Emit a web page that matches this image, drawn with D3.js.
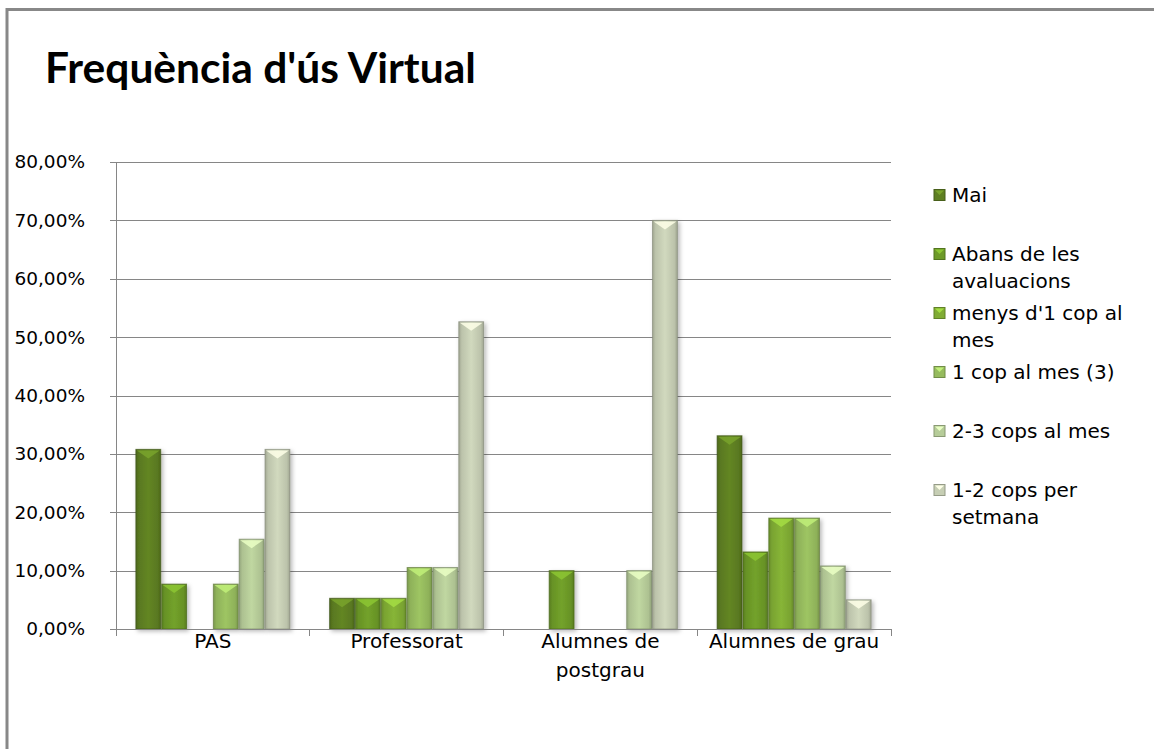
<!DOCTYPE html>
<html>
<head>
<meta charset="utf-8">
<style>
  body { margin: 0; background: #fff; }
  .grid line { stroke: #868686; shape-rendering: crispEdges; }
  .axis path, .axis line { stroke: #868686; shape-rendering: crispEdges; }
  .axis text { font-family: "DejaVu Sans", sans-serif; font-size: 20px; fill: #000; }
  .yaxis text { font-size: 18.5px; }
  .legend text { font-family: "DejaVu Sans", sans-serif; font-size: 20px; fill: #000; }
</style>
<script src="https://d3js.org/d3.v7.min.js"></script>
</head>
<body>
<div id="chart"></div>
<script>
// data
var groups = ["PAS", "Professorat", "Alumnes de postgrau", "Alumnes de grau"];
var seriesNames = ["Mai", "Abans de les avaluacions", "menys d'1 cop al mes",
                   "1 cop al mes (3)", "2-3 cops al mes", "1-2 cops per setmana"];
var mai        = [0.3077, 0.0526, 0.00, 0.331];
var abans      = [0.0769, 0.0526, 0.10, 0.132];
var menys      = [0.00,   0.0526, 0.00, 0.190];
var unCop      = [0.0769, 0.1053, 0.00, 0.190];
var dosTres    = [0.1538, 0.1053, 0.10, 0.108];
var unDosSet   = [0.3077, 0.5263, 0.70, 0.050];
var yTicks     = [0, 0.1, 0.2, 0.3, 0.4, 0.5, 0.6, 0.7, 0.8];

var seriesValues = [mai, abans, menys, unCop, dosTres, unDosSet];
var palette = ["#5e7f22", "#6d9a28", "#80ac34", "#96bb5e", "#b6cc99", "#c6ceb4"];

var W = 1154, H = 749;
var plot = {left: 116, right: 891, top: 162, bottom: 629};

var svg = d3.select("#chart").append("svg")
    .attr("width", W).attr("height", H);

// defs: shadow + per series gradient
var defs = svg.append("defs");
var shadow = defs.append("filter").attr("id", "shadow")
    .attr("x", "-20%").attr("y", "-10%").attr("width", "160%").attr("height", "130%");
shadow.append("feDropShadow").attr("dx", 2).attr("dy", 2)
    .attr("stdDeviation", 2).attr("flood-color", "#000").attr("flood-opacity", 0.28);

palette.forEach(function(c, i) {
    var g = defs.append("linearGradient").attr("id", "grad" + i)
        .attr("x1", "0").attr("x2", "1").attr("y1", "0").attr("y2", "0");
    var base = d3.color(c);
    g.append("stop").attr("offset", "0%").attr("stop-color", base.darker(0.6));
    g.append("stop").attr("offset", "12%").attr("stop-color", base.darker(0.15));
    g.append("stop").attr("offset", "50%").attr("stop-color", base.brighter(0.15));
    g.append("stop").attr("offset", "88%").attr("stop-color", base.darker(0.15));
    g.append("stop").attr("offset", "100%").attr("stop-color", base.darker(0.6));
});

// outer frame (extends past the right / bottom edge like the picture)
svg.append("rect")
    .attr("x", 7).attr("y", 9.5).attr("width", W + 20).attr("height", H + 20)
    .attr("fill", "none").attr("stroke", "#888").attr("stroke-width", 3);

// title
svg.append("text")
    .attr("x", 45).attr("y", 83)
    .style("font-family", "Lato, 'Open Sans', sans-serif")
    .style("font-weight", "bold")
    .style("font-size", "42.5px")
    .text("Frequència d'ús Virtual");

// scales
var x0 = d3.scaleBand().domain(groups).range([plot.left, plot.right]).padding(0);
var x1 = d3.scaleBand().domain(d3.range(seriesNames.length))
    .range([0, x0.bandwidth()]).paddingInner(0).paddingOuter(0.75);
var y = d3.scaleLinear().domain([0, 0.8]).range([plot.bottom, plot.top]);

var fmt = d3.formatLocale({decimal: ",", thousands: ".", grouping: [3], currency: ["", "€"]})
    .format(".2%");

// gridlines
svg.append("g").attr("class", "grid")
    .attr("transform", "translate(" + plot.left + ",0)")
    .call(d3.axisLeft(y).tickValues(yTicks).tickSize(-(plot.right - plot.left)).tickFormat(""))
    .call(function(g) { g.select(".domain").remove(); });

// y axis
svg.append("g").attr("class", "axis yaxis")
    .attr("transform", "translate(" + plot.left + ",0)")
    .call(d3.axisLeft(y).tickValues(yTicks).tickSize(6).tickSizeOuter(0).tickPadding(25).tickFormat(fmt));

// bars
var rows = [];
groups.forEach(function(gname, gi) {
    seriesValues.forEach(function(vals, si) {
        if (vals[gi] > 0) rows.push({group: gname, s: si, v: vals[gi]});
    });
});

var bars = svg.append("g").selectAll("g.bar").data(rows).enter()
    .append("g").attr("class", "bar")
    .attr("transform", function(d) { return "translate(" + (x0(d.group) + x1(d.s)) + ",0)"; });

bars.append("rect")
    .attr("x", 0.5)
    .attr("y", function(d) { return y(d.v); })
    .attr("width", x1.bandwidth() - 1)
    .attr("height", function(d) { return y(0) - y(d.v); })
    .attr("fill", function(d) { return "url(#grad" + d.s + ")"; })
    .attr("stroke", function(d) { return d3.color(palette[d.s]).darker(1.1); })
    .attr("stroke-opacity", 0.7)
    .attr("filter", "url(#shadow)");

// bevel highlight on the top of each bar
bars.append("path")
    .attr("d", function(d) {
        var w = x1.bandwidth() - 1, t = y(d.v) + 1, h = Math.min(8, (y(0) - y(d.v)) / 2);
        return "M1.5," + t + "L" + (w - 0.5) + "," + t + "L" + (w / 2 + 0.5) + "," + (t + h) + "Z";
    })
    .attr("fill", function(d) { return d3.color(palette[d.s]).brighter(0.7); })
    .attr("opacity", 0.85);

// x axis
var xAxis = svg.append("g").attr("class", "axis")
    .attr("transform", "translate(0," + plot.bottom + ")")
    .call(d3.axisBottom(x0).tickSize(0).tickPadding(5));
xAxis.selectAll(".tick text").call(wrap, 185);
// boundary ticks between categories
xAxis.selectAll("line.sep").data(groups.concat(["end"])).enter()
    .append("line").attr("class", "sep")
    .attr("x1", function(d, i) { return i < groups.length ? x0(d) : plot.right; })
    .attr("x2", function(d, i) { return i < groups.length ? x0(d) : plot.right; })
    .attr("y1", 0).attr("y2", 7);

// legend
var legend = svg.append("g").attr("class", "legend");
var li = legend.selectAll("g").data(seriesNames).enter().append("g")
    .attr("transform", function(d, i) { return "translate(934," + (195 + i * 59) + ")"; });
li.append("rect")
    .attr("x", 0).attr("y", -5.5).attr("width", 11).attr("height", 11)
    .attr("fill", function(d, i) { return palette[i]; })
    .attr("stroke", function(d, i) { return d3.color(palette[i]).darker(0.8); });
li.append("path")
    .attr("d", "M1,-4.5L10,-4.5L5.5,0Z")
    .attr("fill", function(d, i) { return d3.color(palette[i]).brighter(0.7); });
li.append("text")
    .attr("x", 18).attr("y", 7)
    .text(function(d) { return d; })
    .call(wrapLegend, 200);

function wrap(sel, width) {
    sel.each(function() {
        var text = d3.select(this), words = text.text().split(/\s+/);
        var yv = text.attr("y"), dy = parseFloat(text.attr("dy")) || 0;
        var line = [], lineNo = 0;
        text.text(null);
        var tspan = text.append("tspan").attr("x", 0).attr("y", yv).attr("dy", dy + "em");
        words.forEach(function(w) {
            line.push(w);
            tspan.text(line.join(" "));
            if (tspan.node().getComputedTextLength() > width && line.length > 1) {
                line.pop();
                tspan.text(line.join(" "));
                line = [w];
                lineNo++;
                tspan = text.append("tspan").attr("x", 0).attr("y", yv)
                    .attr("dy", (lineNo * 1.45 + dy) + "em").text(w);
            }
        });
    });
}

function wrapLegend(sel, width) {
    sel.each(function() {
        var text = d3.select(this), words = text.text().split(/\s+/);
        var xv = text.attr("x");
        var line = [], lineNo = 0;
        text.text(null);
        var tspan = text.append("tspan").attr("x", xv).attr("dy", 0);
        words.forEach(function(w) {
            line.push(w);
            tspan.text(line.join(" "));
            if (tspan.node().getComputedTextLength() > width && line.length > 1) {
                line.pop();
                tspan.text(line.join(" "));
                line = [w];
                lineNo++;
                tspan = text.append("tspan").attr("x", xv).attr("dy", 27).text(w);
            }
        });
    });
}
</script>
</body>
</html>
